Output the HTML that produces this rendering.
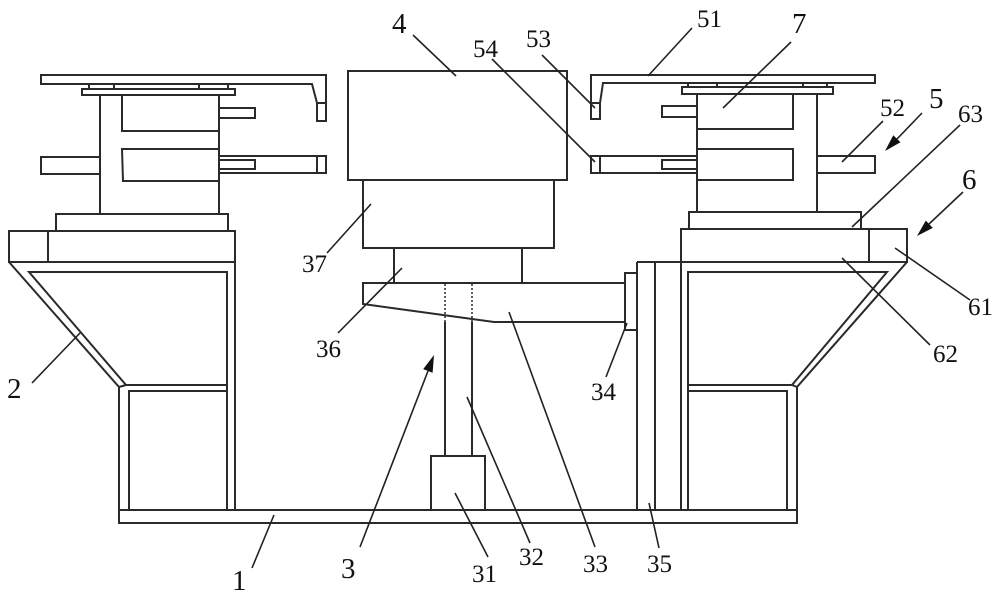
<!DOCTYPE html>
<html><head><meta charset="utf-8"><style>
html,body{margin:0;padding:0;background:#fff;}
svg{display:block;}
text{font-family:"Liberation Serif",serif;fill:#111;}
.s{font-size:25px;}
.b{font-size:29px;}
</style></head><body>
<svg width="1000" height="598" viewBox="0 0 1000 598" xmlns="http://www.w3.org/2000/svg">
<g fill="none" stroke="#2a2a2a" stroke-width="2" stroke-linejoin="miter">
<!-- LEFT TOP -->
<path d="M41,75 H326 V121 H317 V103 L312,84 H41 Z"/>
<line x1="317" y1="103" x2="326" y2="103"/>
<rect x="89" y="84" width="25" height="5"/>
<rect x="199" y="84" width="29" height="5"/>
<rect x="82" y="89" width="153" height="6"/>
<rect x="100" y="95" width="119" height="119"/>
<polyline points="122,95 122,131 219,131"/>
<polyline points="219,149 122,149 123,181 219,181"/>
<rect x="219" y="108" width="36" height="10"/>
<rect x="41" y="157" width="59" height="17"/>
<rect x="219" y="156" width="107" height="17"/>
<line x1="317" y1="156" x2="317" y2="173"/>
<rect x="219" y="160" width="36" height="9"/>
<rect x="56" y="214" width="172" height="17"/>
<rect x="9" y="231" width="226" height="31"/>
<line x1="48" y1="231" x2="48" y2="262"/>
<!-- LEFT HOPPER -->
<polyline points="9,262 119,387 119,510"/>
<path d="M227,510 V272 H29 L126,385 H227"/>
<line x1="119" y1="387" x2="126" y2="385"/>
<polyline points="129,510 129,391 227,391"/>
<line x1="235" y1="262" x2="235" y2="510"/>
<!-- RIGHT HOPPER -->
<polyline points="907,262 797,387 797,510"/>
<path d="M688,510 V272 H887 L792,385 H688"/>
<line x1="797" y1="387" x2="792" y2="385"/>
<polyline points="787,510 787,391 688,391"/>
<line x1="681" y1="229" x2="681" y2="510"/>
<line x1="637" y1="262" x2="907" y2="262"/>
<line x1="637" y1="262" x2="637" y2="510"/>
<line x1="655" y1="262" x2="655" y2="510"/>
<!-- RIGHT TOP -->
<path d="M875,75 H591 V119 H600 V103 L603,83 H875 Z"/>
<line x1="591" y1="103" x2="600" y2="103"/>
<rect x="688" y="83" width="29" height="4"/>
<rect x="803" y="83" width="24" height="4"/>
<rect x="682" y="87" width="151" height="7"/>
<rect x="697" y="94" width="120" height="118"/>
<polyline points="793,94 793,129 697,129"/>
<rect x="697" y="149" width="96" height="31"/>
<rect x="662" y="106" width="35" height="11"/>
<rect x="591" y="156" width="106" height="17"/>
<line x1="600" y1="156" x2="600" y2="173"/>
<rect x="662" y="160" width="35" height="9"/>
<rect x="817" y="156" width="58" height="17"/>
<rect x="689" y="212" width="172" height="17"/>
<rect x="681" y="229" width="226" height="33"/>
<line x1="869" y1="229" x2="869" y2="262"/>
<!-- CENTER -->
<rect x="348" y="71" width="219" height="109"/>
<rect x="363" y="180" width="191" height="68"/>
<rect x="394" y="248" width="128" height="35"/>
<path d="M363,283 H625 V322 H494 L363,304 Z"/>
<rect x="625" y="273" width="12" height="57"/>
<line x1="445" y1="322" x2="445" y2="456"/>
<line x1="472" y1="322" x2="472" y2="456"/>
<line x1="445" y1="284" x2="445" y2="322" stroke-dasharray="2,2" stroke-width="1.5"/>
<line x1="472" y1="284" x2="472" y2="322" stroke-dasharray="2,2" stroke-width="1.5"/>
<rect x="431" y="456" width="54" height="54"/>
<rect x="119" y="510" width="678" height="13"/>
</g>
<!-- LEADERS -->
<g stroke="#222" stroke-width="1.6" fill="none">
<line x1="413" y1="35" x2="456" y2="76"/>
<line x1="492" y1="59" x2="595" y2="162"/>
<line x1="542" y1="55" x2="595" y2="108"/>
<line x1="692" y1="28" x2="648" y2="76"/>
<line x1="791" y1="42" x2="723" y2="108"/>
<line x1="883" y1="121" x2="842" y2="162"/>
<line x1="960" y1="125" x2="852" y2="227"/>
<line x1="895" y1="248" x2="970" y2="300"/>
<line x1="842" y1="258" x2="930" y2="345"/>
<line x1="649" y1="503" x2="659" y2="548"/>
<line x1="627" y1="323" x2="606" y2="377"/>
<line x1="509" y1="312" x2="595" y2="547"/>
<line x1="467" y1="397" x2="530" y2="543"/>
<line x1="455" y1="493" x2="488" y2="557"/>
<line x1="338" y1="333" x2="402" y2="268"/>
<line x1="327" y1="253" x2="371" y2="204"/>
<line x1="32" y1="383" x2="80" y2="333"/>
<line x1="252" y1="568" x2="274" y2="515"/>
<line x1="360" y1="547" x2="428" y2="371"/>
<line x1="922" y1="113" x2="897" y2="139"/>
<line x1="963" y1="192" x2="929" y2="224"/>
</g>
<g fill="#111" stroke="none">
<polygon points="434,355 432.6,372.7 423.2,369.1"/>
<polygon points="885,151 900.5,142.3 893.3,135.3"/>
<polygon points="917,236 932.8,227.9 925.8,220.6"/>
</g>
<!-- LABELS -->
<text class="b" x="392" y="33">4</text>
<text class="s" x="473" y="57">54</text>
<text class="s" x="526" y="47">53</text>
<text class="s" x="697" y="27">51</text>
<text class="b" x="792" y="33">7</text>
<text class="s" x="880" y="116">52</text>
<text class="b" x="929" y="108">5</text>
<text class="s" x="958" y="122">63</text>
<text class="b" x="962" y="189">6</text>
<text class="s" x="968" y="315">61</text>
<text class="s" x="933" y="362">62</text>
<text class="s" x="647" y="572">35</text>
<text class="s" x="591" y="400">34</text>
<text class="s" x="583" y="572">33</text>
<text class="s" x="519" y="565">32</text>
<text class="s" x="472" y="582">31</text>
<text class="b" x="341" y="578">3</text>
<text class="s" x="316" y="357">36</text>
<text class="s" x="302" y="272">37</text>
<text class="b" x="7" y="398">2</text>
<text class="b" x="232" y="590">1</text>
</svg>
</body></html>
